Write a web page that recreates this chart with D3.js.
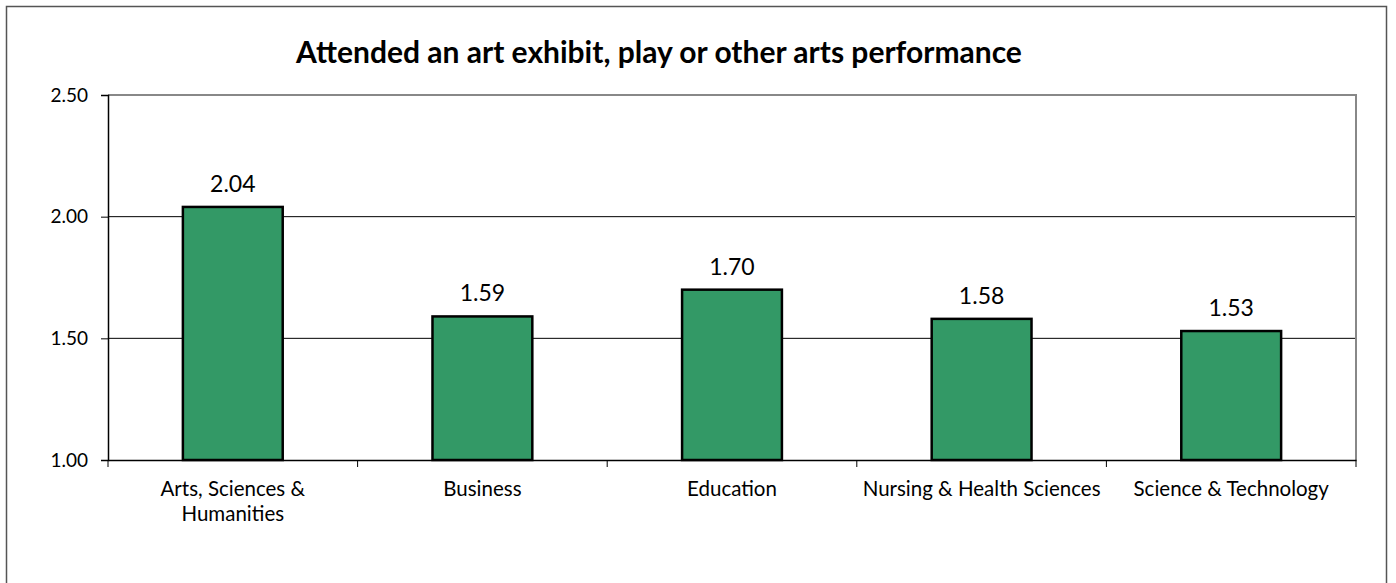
<!DOCTYPE html>
<html><head><meta charset="utf-8">
<script src="https://cdn.jsdelivr.net/npm/d3@7"></script>
<style>body{margin:0;background:#fff}svg{display:block;font-family:Lato,"Open Sans",sans-serif}</style>
</head><body><svg id="c" width="1396" height="583"></svg>
<script>
const categories = ["Arts, Sciences & Humanities","Business","Education","Nursing & Health Sciences","Science & Technology"];
const categoryLines = [["Arts, Sciences &","Humanities"],["Business"],["Education"],["Nursing & Health Sciences"],["Science & Technology"]];
const values = [2.04,1.59,1.70,1.58,1.53];
const yTicks = [1.00,1.50,2.00,2.50];
const title = "Attended an art exhibit, play or other arts performance";

const svg = d3.select("#c");
svg.append("rect").attr("x",6.5).attr("y",6.5).attr("width",1380).attr("height",600)
  .attr("fill","#fff").attr("stroke","#555").attr("stroke-width",1.5);

const m = {l:108, r:1356, t:95, b:460};
const x = d3.scaleBand().domain(categories).range([m.l,m.r]).paddingInner(0.6).paddingOuter(0.3);
const xb = d3.scaleBand().domain(categories).range([m.l,m.r]);
const y = d3.scaleLinear().domain([1,2.5]).range([m.b,m.t]);

svg.append("g").selectAll("line").data(yTicks.filter(t=>t>1&&t<2.5)).join("line")
  .attr("x1",m.l).attr("x2",m.r).attr("y1",d=>y(d)).attr("y2",d=>y(d))
  .attr("stroke","#000").attr("stroke-width",1);
svg.append("path").attr("d",`M${m.l},${m.t}H${m.r}V${m.b}`).attr("fill","none").attr("stroke","#888").attr("stroke-width",2);

svg.append("g").selectAll("rect").data(values).join("rect")
  .attr("x",(d,i)=>x(categories[i])).attr("width",x.bandwidth())
  .attr("y",d=>y(d)).attr("height",d=>y(1)-y(d))
  .attr("fill","#339966").attr("stroke","#000").attr("stroke-width",2.5);

const ya = svg.append("g").attr("transform",`translate(${m.l},0)`)
  .call(d3.axisLeft(y).tickValues(yTicks).tickFormat(d3.format(".2f")).tickSize(7).tickPadding(13));
ya.select(".domain").attr("stroke","#000").attr("stroke-width",1.5);
ya.selectAll(".tick line").attr("stroke","#000");
ya.selectAll("text").attr("font-size",19).attr("fill","#000").attr("font-family","Lato");

const xa = svg.append("g").attr("transform",`translate(0,${m.b})`)
  .call(d3.axisBottom(xb).tickSize(0).tickFormat(""));
xa.select(".domain").attr("stroke","#000").attr("stroke-width",1.5);
const bounds = categories.map(c=>xb(c)).concat([m.r]);
svg.append("g").selectAll("line").data(bounds).join("line")
  .attr("x1",d=>d).attr("x2",d=>d).attr("y1",m.b).attr("y2",m.b+7).attr("stroke","#000");

categories.forEach((c,i)=>{
  const t = svg.append("text").attr("x",xb(c)+xb.bandwidth()/2).attr("text-anchor","middle")
    .attr("font-size",20.5).attr("fill","#000");
  categoryLines[i].forEach((ln,j)=>t.append("tspan").attr("x",xb(c)+xb.bandwidth()/2).attr("y",m.b+36+j*25).text(ln));
});

svg.append("g").selectAll("text").data(values).join("text")
  .attr("x",(d,i)=>x(categories[i])+x.bandwidth()/2).attr("y",d=>y(d)-15)
  .attr("text-anchor","middle").attr("font-size",23).attr("fill","#000")
  .text(d=>d3.format(".2f")(d));

svg.append("text").attr("x",659).attr("y",63).attr("text-anchor","middle")
  .attr("font-size",30).attr("font-weight","bold").attr("fill","#000").text(title);
</script></body></html>
